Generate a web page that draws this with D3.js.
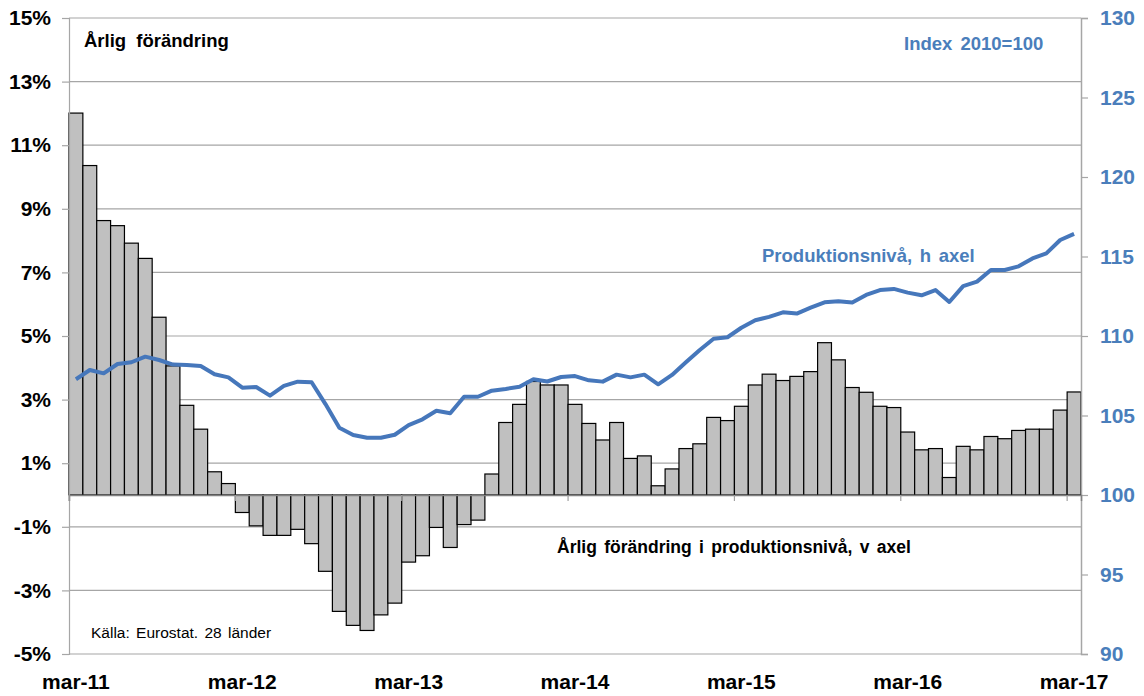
<!DOCTYPE html>
<html>
<head>
<meta charset="utf-8">
<script src="https://cdn.jsdelivr.net/npm/d3@7"></script>
<style>
  body { margin: 0; background: #fff; }
  svg text { font-family: "Liberation Sans", Arial, sans-serif; }
</style>
</head>
<body>
<div id="chart"></div>
<script>
const months = [
  "mar-11","apr-11","maj-11","jun-11","jul-11","aug-11","sep-11","okt-11","nov-11","dec-11","jan-12","feb-12",
  "mar-12","apr-12","maj-12","jun-12","jul-12","aug-12","sep-12","okt-12","nov-12","dec-12","jan-13","feb-13",
  "mar-13","apr-13","maj-13","jun-13","jul-13","aug-13","sep-13","okt-13","nov-13","dec-13","jan-14","feb-14",
  "mar-14","apr-14","maj-14","jun-14","jul-14","aug-14","sep-14","okt-14","nov-14","dec-14","jan-15","feb-15",
  "mar-15","apr-15","maj-15","jun-15","jul-15","aug-15","sep-15","okt-15","nov-15","dec-15","jan-16","feb-16",
  "mar-16","apr-16","maj-16","jun-16","jul-16","aug-16","sep-16","okt-16","nov-16","dec-16","jan-17","feb-17",
  "mar-17"
];

// yearly change, % (left axis)
const yearlyChange = [
  12.01, 10.36, 8.63, 8.47, 7.92, 7.44, 5.59, 4.06, 2.82, 2.07, 0.73, 0.36,
  -0.55, -0.97, -1.27, -1.27, -1.08, -1.53, -2.40, -3.66, -4.10, -4.26, -3.77, -3.40,
  -2.11, -1.91, -1.02, -1.65, -0.93, -0.79, 0.66, 2.28, 2.85, 3.57, 3.46, 3.46,
  2.85, 2.25, 1.73, 2.28, 1.15, 1.23, 0.29, 0.82, 1.46, 1.61, 2.44, 2.34,
  2.79, 3.46, 3.80, 3.60, 3.73, 3.88, 4.79, 4.25, 3.38, 3.23, 2.79, 2.75,
  1.98, 1.42, 1.46, 0.55, 1.53, 1.42, 1.84, 1.77, 2.03, 2.07, 2.07, 2.67,
  3.24
];

// production level, index 2010=100 (right axis)
const productionIndex = [
  107.28, 107.86, 107.65, 108.24, 108.35, 108.70, 108.49, 108.20, 108.18, 108.11, 107.59, 107.40,
  106.75, 106.79, 106.25, 106.86, 107.13, 107.09, 105.72, 104.23, 103.77, 103.60, 103.60, 103.79,
  104.40, 104.76, 105.30, 105.14, 106.18, 106.18, 106.56, 106.67, 106.81, 107.28, 107.14, 107.42,
  107.48, 107.21, 107.13, 107.57, 107.40, 107.57, 106.96, 107.55, 108.35, 109.12, 109.83, 109.92,
  110.52, 110.99, 111.20, 111.49, 111.41, 111.78, 112.12, 112.18, 112.10, 112.58, 112.89, 112.96,
  112.73, 112.56, 112.89, 112.14, 113.14, 113.42, 114.15, 114.15, 114.38, 114.88, 115.20, 116.04,
  116.42
];

const leftTicks = [-5, -3, -1, 1, 3, 5, 7, 9, 11, 13, 15];
const rightTicks = [90, 95, 100, 105, 110, 115, 120, 125, 130];
const xTickLabels = ["mar-11", "mar-12", "mar-13", "mar-14", "mar-15", "mar-16", "mar-17"];

const BLUE = "#4a7ebb",
      GRID = "#a6a6a6";

class ProductionChart {
  constructor (options) {
    this.el = options.el;
    this.width = options.width;
    this.height = options.height;
    this.margin = { top: 18, right: 63, bottom: 42, left: 69 };
  }

  draw () {
    const svg = d3.select(this.el).append('svg')
      .attr('width', this.width)
      .attr('height', this.height);
    this.svg = svg;

    this.createScales();
    this.addGrid();
    this.addBars();
    this.addAxes();
    this.addLine();
    this.addLabels();
  }

  createScales () {
    const m = this.margin;
    this.x = d3.scaleBand()
      .domain(months)
      .range([m.left, this.width - m.right])
      .padding(0);

    this.yLeft = d3.scaleLinear()
      .domain([-5, 15])
      .range([this.height - m.bottom, m.top]);

    this.yRight = d3.scaleLinear()
      .domain([90, 130])
      .range([this.height - m.bottom, m.top]);
  }

  addGrid () {
    const m = this.margin;
    this.svg.append('g')
      .selectAll('line')
      .data(leftTicks)
      .enter().append('line')
      .attr('x1', m.left)
      .attr('x2', this.width - m.right)
      .attr('y1', (d) => this.yLeft(d))
      .attr('y2', (d) => this.yLeft(d))
      .attr('stroke', GRID)
      .attr('stroke-width', 1.2);
  }

  addBars () {
    const y0 = this.yLeft(0);
    this.svg.append('g')
      .selectAll('rect')
      .data(yearlyChange)
      .enter().append('rect')
      .attr('x', (d, i) => this.x(months[i]))
      .attr('width', this.x.bandwidth())
      .attr('y', (d) => Math.min(this.yLeft(d), y0))
      .attr('height', (d) => Math.abs(this.yLeft(d) - y0))
      .attr('fill', '#c0c0c0')
      .attr('stroke', '#000')
      .attr('stroke-width', 1.2);
  }

  addAxes () {
    const m = this.margin,
          bw = this.x.bandwidth();

    const left = this.svg.append('g')
      .attr('transform', 'translate(' + m.left + ',0)')
      .call(d3.axisLeft(this.yLeft)
        .tickValues(leftTicks)
        .tickFormat((d) => d + '%')
        .tickSize(7)
        .tickPadding(11));
    left.select('.domain').attr('stroke', GRID).attr('stroke-width', 1.2);
    left.selectAll('.tick line').attr('stroke', GRID).attr('stroke-width', 1.2);
    left.selectAll('text')
      .attr('font-size', 21)
      .attr('font-weight', 'bold')
      .attr('fill', '#000');

    const right = this.svg.append('g')
      .attr('transform', 'translate(' + (this.width - m.right) + ',0)')
      .call(d3.axisRight(this.yRight)
        .tickValues(rightTicks)
        .tickSize(7)
        .tickPadding(12));
    right.select('.domain').attr('stroke', GRID).attr('stroke-width', 1.5);
    right.selectAll('.tick line').attr('stroke', GRID).attr('stroke-width', 1.2);
    right.selectAll('text')
      .attr('font-size', 21)
      .attr('font-weight', 'bold')
      .attr('fill', BLUE);

    // category axis on the zero line, ticks between categories
    const zero = this.svg.append('g')
      .attr('transform', 'translate(0,' + this.yLeft(0) + ')')
      .call(d3.axisBottom(this.x)
        .tickValues(xTickLabels)
        .tickSizeOuter(0)
        .tickSize(6)
        .tickFormat(''));
    zero.select('.domain').attr('stroke', '#808080').attr('stroke-width', 1.5);
    zero.selectAll('.tick line')
      .attr('x1', -bw / 2)
      .attr('x2', -bw / 2)
      .attr('stroke', '#a0a0a0')
      .attr('stroke-width', 1.2);

    const bottom = this.svg.append('g')
      .attr('transform', 'translate(0,' + (this.height - m.bottom) + ')')
      .call(d3.axisBottom(this.x)
        .tickValues(xTickLabels)
        .tickSize(0)
        .tickPadding(20));
    bottom.select('.domain').remove();
    bottom.selectAll('text')
      .attr('font-size', 21)
      .attr('font-weight', 'bold')
      .attr('fill', '#000');
  }

  addLine () {
    const bw = this.x.bandwidth();
    const line = d3.line()
      .x((d, i) => this.x(months[i]) + bw / 2)
      .y((d) => this.yRight(d));

    this.svg.append('path')
      .datum(productionIndex)
      .attr('d', line)
      .attr('fill', 'none')
      .attr('stroke', '#4677bb')
      .attr('stroke-width', 4)
      .attr('stroke-linejoin', 'round');
  }

  addLabels () {
    const notes = [
      { text: 'Årlig förändring', x: 84, y: 46.5, size: 18.5, weight: 'bold', fill: '#000', ws: 5 },
      { text: 'Index 2010=100', x: 904, y: 50, size: 18.5, weight: 'bold', fill: BLUE, ws: 3 },
      { text: 'Produktionsnivå, h axel', x: 762, y: 261.5, size: 18.5, weight: 'bold', fill: BLUE, ws: 2.5 },
      { text: 'Årlig förändring i produktionsnivå, v axel', x: 557, y: 553, size: 17.5, weight: 'bold', fill: '#000', ws: 2.5 },
      { text: 'Källa: Eurostat. 28 länder', x: 91, y: 638, size: 15.5, weight: 'normal', fill: '#000', ws: 2 }
    ];

    this.svg.append('g')
      .selectAll('text')
      .data(notes)
      .enter().append('text')
      .attr('x', (d) => d.x)
      .attr('y', (d) => d.y)
      .attr('font-size', (d) => d.size)
      .attr('font-weight', (d) => d.weight)
      .attr('word-spacing', (d) => d.ws)
      .attr('fill', (d) => d.fill)
      .text((d) => d.text);
  }
}

new ProductionChart({ el: '#chart', width: 1144, height: 696 }).draw();
</script>
</body>
</html>
